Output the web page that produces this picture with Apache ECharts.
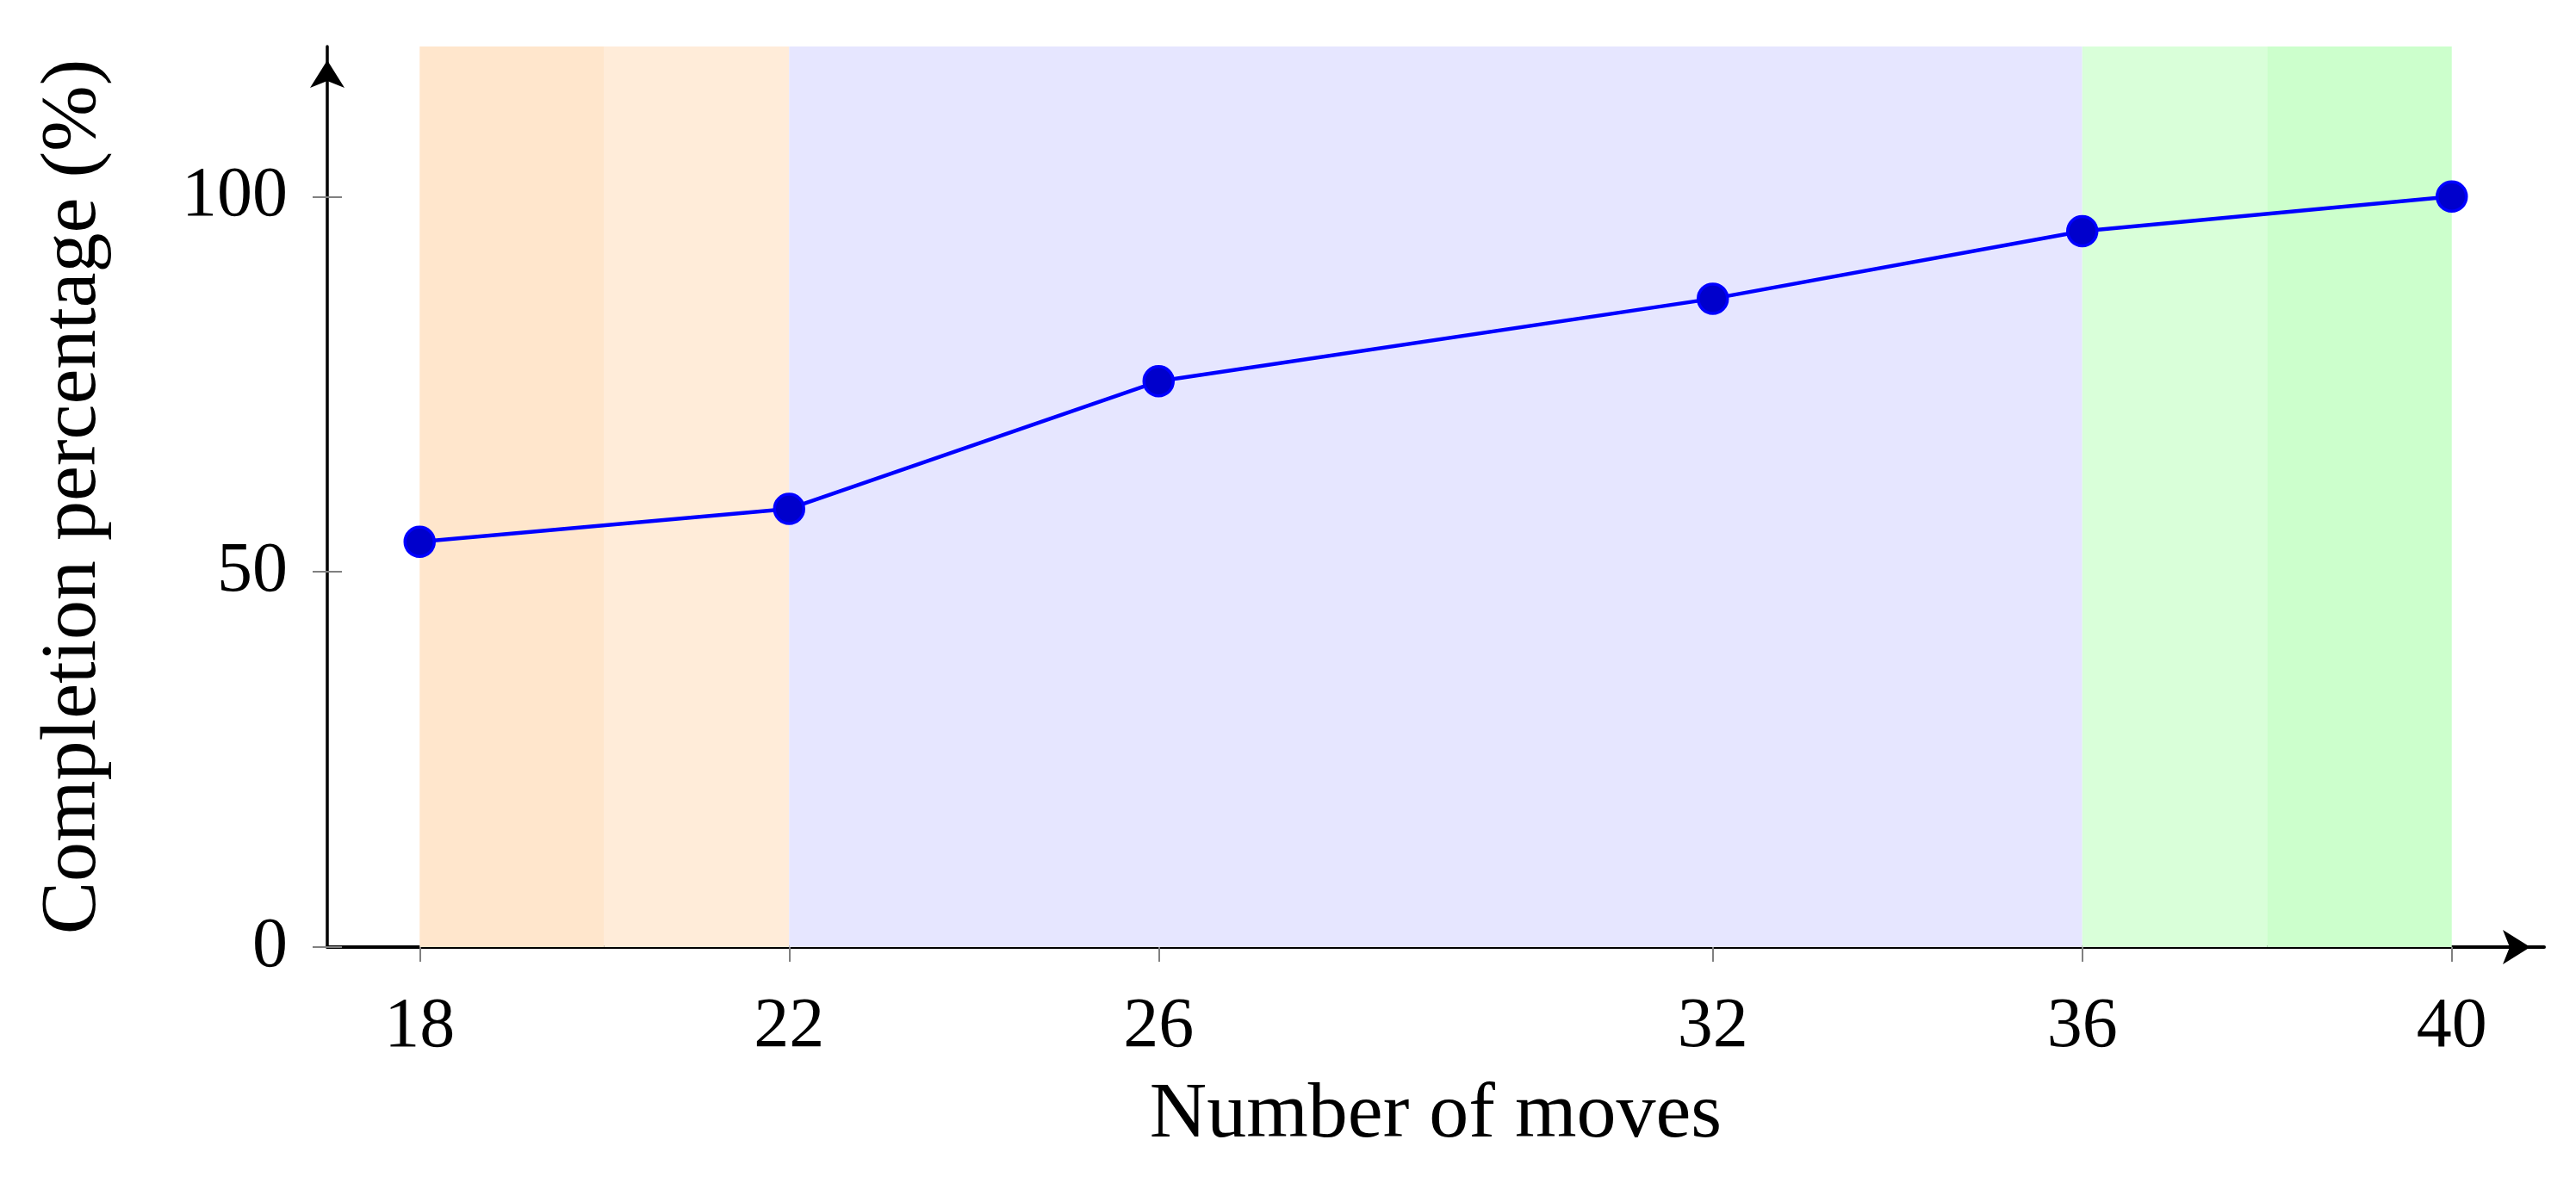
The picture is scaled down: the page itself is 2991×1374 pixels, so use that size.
<!DOCTYPE html>
<html>
<head>
<meta charset="utf-8">
<script src="https://cdn.jsdelivr.net/npm/echarts@6/dist/echarts.min.js"></script>
<style>
  html, body { margin: 0; padding: 0; background: #fff; }
  #chart { width: 2991px; height: 1374px; }
</style>
</head>
<body>
<div id="chart"></div>
<script>
// data
const moves = [18, 22, 26, 32, 36, 40];
const completion = [54, 58.4, 75.4, 86.4, 95.4, 100];
const xTicks = [18, 22, 26, 32, 36, 40];
const yTicks = [0, 50, 100];
// background bands: edges and fills
const bandEdges = [18, 20, 22, 36, 38, 40];
const bandColors = ['#FFE6CC', '#FFECD9', '#E6E6FF', '#D9FFD9', '#CCFFCC'];

const font = '"Liberation Serif", "DejaVu Serif", serif';
const gridLeft = 380, gridRight = 37, gridTop = 54, gridBottom = 274;
const plotWidth = 2991 - gridLeft - gridRight;

const bands = bandColors.map((c, i) => [
  { xAxis: bandEdges[i], itemStyle: { color: c } },
  { xAxis: bandEdges[i + 1] }
]);

const chart = echarts.init(document.getElementById('chart'));
chart.setOption({
  animation: false,
  backgroundColor: '#fff',
  grid: {
    left: gridLeft, right: gridRight, top: gridTop, bottom: gridBottom,
    outerBoundsMode: 'none'
  },
  xAxis: {
    type: 'value',
    min: 17,
    max: 41,
    name: 'Number of moves',
    nameLocation: 'middle',
    nameGap: 150,
    nameTextStyle: { fontFamily: font, fontSize: 92, color: '#000' },
    axisLine: {
      onZero: false,
      symbol: ['none', 'arrow'],
      symbolSize: [30, 32],
      symbolOffset: [0, -16],
      lineStyle: { color: '#000', width: 4 }
    },
    axisTick: {
      customValues: xTicks,
      length: 17,
      lineStyle: { color: '#808080', width: 2 }
    },
    axisLabel: {
      customValues: xTicks,
      margin: 52,
      fontFamily: font, fontSize: 82, color: '#000'
    },
    splitLine: { show: false }
  },
  yAxis: [
    {
      type: 'value',
      min: 0,
      max: 120,
      name: 'Completion percentage (%)',
      nameLocation: 'middle',
      nameGap: 248,
      nameTextStyle: { fontFamily: font, fontSize: 92, color: '#000' },
      axisLine: {
        show: true,
        onZero: false,
        symbol: ['none', 'arrow'],
        symbolSize: [30, 32],
        symbolOffset: [0, -16],
        lineStyle: { color: '#000', width: 3.5 }
      },
      axisTick: {
        customValues: yTicks,
        length: 17,
        lineStyle: { color: '#808080', width: 2 }
      },
      axisLabel: {
        customValues: yTicks,
        margin: 46,
        fontFamily: font, fontSize: 82, color: '#000'
      },
      splitLine: { show: false }
    },
    {
      // inner half of the y ticks
      type: 'value',
      min: 0,
      max: 120,
      position: 'right',
      offset: -plotWidth,
      axisLine: { show: false },
      axisTick: {
        show: true,
        customValues: yTicks,
        length: 17,
        lineStyle: { color: '#808080', width: 2 }
      },
      axisLabel: { show: false },
      splitLine: { show: false }
    }
  ],
  series: [
    {
      type: 'line',
      data: moves.map((m, i) => [m, completion[i]]),
      symbol: 'circle',
      symbolSize: 34,
      lineStyle: { color: '#0000FF', width: 4.5 },
      itemStyle: { color: '#0000CC', borderColor: '#0000FF', borderWidth: 3.5 },
      markArea: {
        silent: true,
        data: bands
      }
    }
  ]
});
</script>
</body>
</html>
